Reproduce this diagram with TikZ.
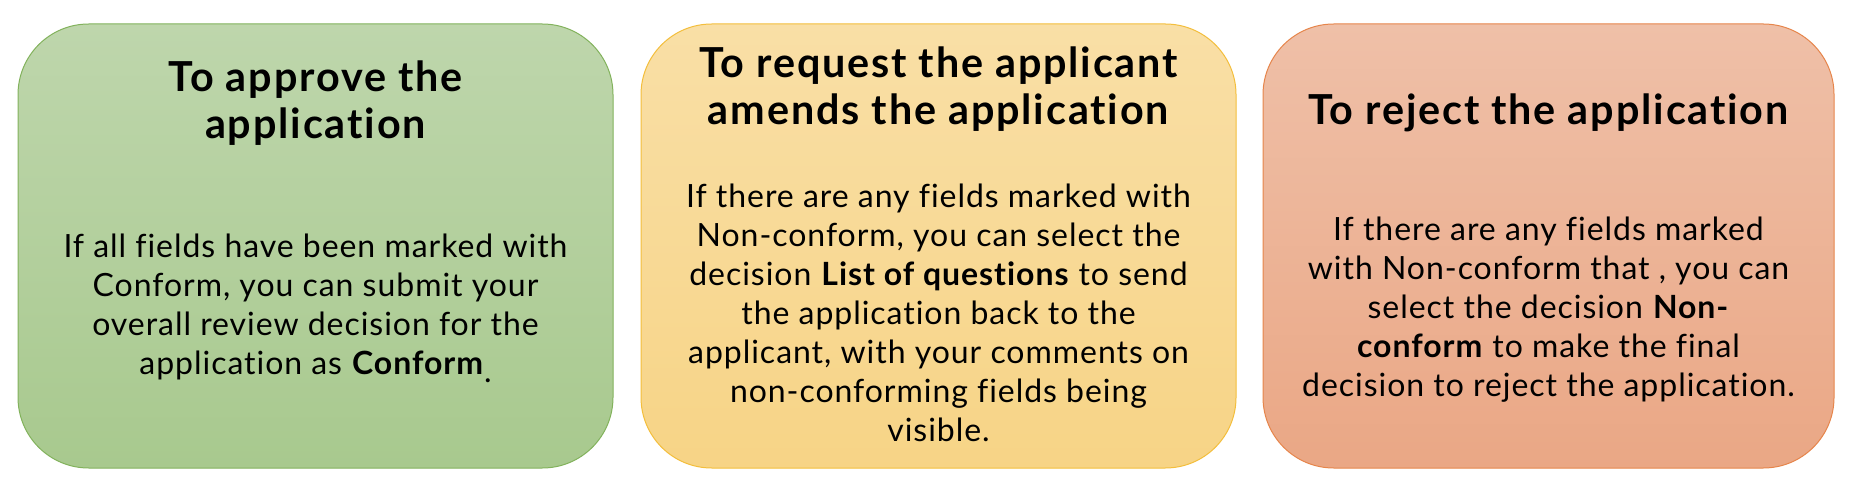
\documentclass[tikz,border=0pt]{standalone}
\usepackage{fontspec}
\setmainfont{Lato}
\newfontfamily\headfont[LetterSpace=4.5,Ligatures=NoCommon]{Lato}
\newfontfamily\copyfont[LetterSpace=3,Ligatures=NoCommon]{Lato}
\definecolor{approveTop}{RGB}{190,214,172}
\definecolor{approveBot}{RGB}{168,201,142}
\definecolor{approveLine}{RGB}{130,178,92}
\definecolor{amendTop}{RGB}{249,223,166}
\definecolor{amendBot}{RGB}{247,212,134}
\definecolor{amendLine}{RGB}{243,190,60}
\definecolor{rejectTop}{RGB}{239,192,168}
\definecolor{rejectBot}{RGB}{234,167,133}
\definecolor{rejectLine}{RGB}{230,133,75}
\begin{document}
\begin{tikzpicture}[x=0.75pt,y=0.75pt,yscale=-1,xscale=1,
    card/.style={rectangle, rounded corners=53pt, line width=0.75pt, minimum height=333pt, inner sep=0pt},
    headline/.style={align=center, inner sep=0.75pt, font=\headfont\fontsize{31}{35.5}\selectfont\bfseries},
    bodytext/.style={align=center, inner sep=0.75pt, font=\copyfont\fontsize{24}{29.25}\selectfont}]
        \useasboundingbox (0,0) rectangle (1858,502);
        % the three decision cards
        \node [card, minimum width=446.25pt, draw=approveLine, top color=approveTop, bottom color=approveBot] (approve) at (315.5,246) {};
        \node [card, minimum width=446.25pt, draw=amendLine, top color=amendTop, bottom color=amendBot] (amend) at (938.5,246) {};
        \node [card, minimum width=428.25pt, draw=rejectLine, top color=rejectTop, bottom color=rejectBot] (reject) at (1548.5,246) {};
        % headings
        \node [headline] (approveHead) at (315.5,103) {To approve the\\application};
        \node [headline] (amendHead) at (938.5,89) {To request the applicant\\amends the application};
        \node [headline] (rejectHead) at (1548.5,113) {To reject the application};
        % explanations
        \node [bodytext] (approveText) at (315.5,308) {If all fields have been marked with\\Conform, you can submit your\\overall review decision for the\\application as \textbf{Conform}\raisebox{-0.5ex}{.}};
        \node [bodytext] (amendText) at (938.5,312.5) {If there are any fields marked with\\Non-conform, you can select the\\decision \textbf{List of questions} to send\\the application back to the\\applicant, with your comments on\\non-conforming fields being\\visible.};
        \node [bodytext] (rejectText) at (1548.5,309.5) {If there are any fields marked\\with Non-conform that , you can\\select the decision \textbf{Non-}\\\textbf{conform} to make the final\\decision to reject the application.};
    \end{tikzpicture}
\end{document}
